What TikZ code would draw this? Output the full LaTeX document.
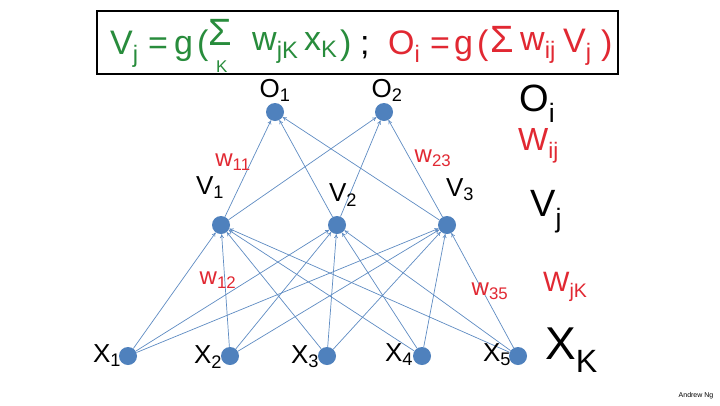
\documentclass[tikz,border=0pt]{standalone}
\usepackage{fontspec}
\setmainfont{Liberation Sans}
\usetikzlibrary{arrows.meta}
\definecolor{nodeblue}{RGB}{79,129,189}
\definecolor{edgeblue}{RGB}{95,140,195}
\definecolor{fgreen}{RGB}{40,140,60}
\definecolor{fred}{RGB}{225,40,50}
\newcommand{\fs}[1]{\fontsize{#1}{#1}\selectfont}
\begin{document}
\begin{tikzpicture}[x=1pt,y=-1pt,
  neuron/.style={circle,fill=nodeblue,minimum size=18pt,inner sep=0pt},
  conn/.style={draw=edgeblue,line width=0.7pt,-{To[length=4pt,width=4pt]}},
  lbl/.style={inner sep=0pt,font=\fs{26}},
  wlbl/.style={inner sep=0pt,text=fred,font=\fs{24}},
  side/.style={inner sep=0pt,anchor=west},
  ftok/.style={inner sep=0pt,anchor=base west,font=\fs{34}},
  gtok/.style={ftok,text=fgreen},
  rtok/.style={ftok,text=fred}]
\useasboundingbox[fill=white] (0,0) rectangle (720,405);
% formula box
\node[draw,line width=1.1pt,minimum width=521pt,minimum height=63pt,inner sep=0pt] (box) at (357.5,42.5) {};
\node[gtok] (f1) at (110,54) {V\textsubscript{j}};
\node[gtok] (f2) at (148,54) {=};
\node[gtok] (f3) at (174,54) {g};
\node[gtok] (f4) at (197,54) {(};
\node[gtok,font=\fs{38}] (f5) at (208,45) {Σ};
\node[gtok,font=\fs{17}] (f6) at (216,72) {K};
\node[gtok] (f7) at (252,50) {w\textsubscript{jK}};
\node[gtok] (f8) at (304,50) {x\textsubscript{K}};
\node[gtok] (f9) at (340,54) {)};
\node[ftok] (f10) at (360,54) {;};
\node[rtok] (f11) at (388,54) {O\textsubscript{i}};
\node[rtok] (f12) at (430,54) {=};
\node[rtok] (f13) at (454,54) {g};
\node[rtok] (f14) at (477,54) {(};
\node[rtok,font=\fs{38}] (f15) at (490,52) {Σ};
\node[rtok] (f16) at (520,50) {w\textsubscript{ij}};
\node[rtok] (f17) at (563,52) {V\textsubscript{j}};
\node[rtok] (f18) at (601,54) {)};
% neurons
\node[neuron] (o1) at (275,112) {};
\node[neuron] (o2) at (384,112) {};
\node[neuron] (v1) at (221,225) {};
\node[neuron] (v2) at (337,225) {};
\node[neuron] (v3) at (447,225) {};
\node[neuron] (x1) at (128,356) {};
\node[neuron] (x2) at (230,356) {};
\node[neuron] (x3) at (327,356) {};
\node[neuron] (x4) at (422,356) {};
\node[neuron] (x5) at (518,356) {};
% connectors
\foreach \x in {x1,x2,x3,x4,x5}
  \foreach \v in {v1,v2,v3}
    \draw[conn] (\x) -- (\v);
\foreach \v in {v1,v2,v3}
  \foreach \o in {o1,o2}
    \draw[conn] (\v) -- (\o);
% node labels
\node[lbl] (lo1) at (275,90) {O\textsubscript{1}};
\node[lbl] (lo2) at (387,90) {O\textsubscript{2}};
\node[lbl] (lv1) at (210,188) {V\textsubscript{1}};
\node[lbl] (lv2) at (343,195) {V\textsubscript{2}};
\node[lbl] (lv3) at (460,190) {V\textsubscript{3}};
\node[lbl] (lx1) at (107,356) {X\textsubscript{1}};
\node[lbl] (lx2) at (208,357) {X\textsubscript{2}};
\node[lbl] (lx3) at (305,357) {X\textsubscript{3}};
\node[lbl] (lx4) at (399,355) {X\textsubscript{4}};
\node[lbl] (lx5) at (497,355) {X\textsubscript{5}};
% weight labels
\node[wlbl] (w11) at (233,162) {w\textsubscript{11}};
\node[wlbl] (w23) at (433,158) {w\textsubscript{23}};
\node[wlbl] (w12) at (218,280) {w\textsubscript{12}};
\node[wlbl] (w35) at (490,291) {w\textsubscript{35}};
% side legend
\node[side,font=\fs{38}] (oi) at (519,104) {O\textsubscript{i}};
\node[side,font=\fs{32},text=fred] (wij) at (518,146) {W\textsubscript{ij}};
\node[side,font=\fs{38}] (vj) at (530,212) {V\textsubscript{j}};
\node[side,font=\fs{28},text=fred] (wjk) at (543,287) {W\textsubscript{jK}};
\node[side,font=\fs{46}] (xk) at (545,350) {X\textsubscript{K}};
\node[inner sep=0pt,font=\fs{7}] (author) at (696,396) {Andrew Ng};
\end{tikzpicture}
\end{document}
